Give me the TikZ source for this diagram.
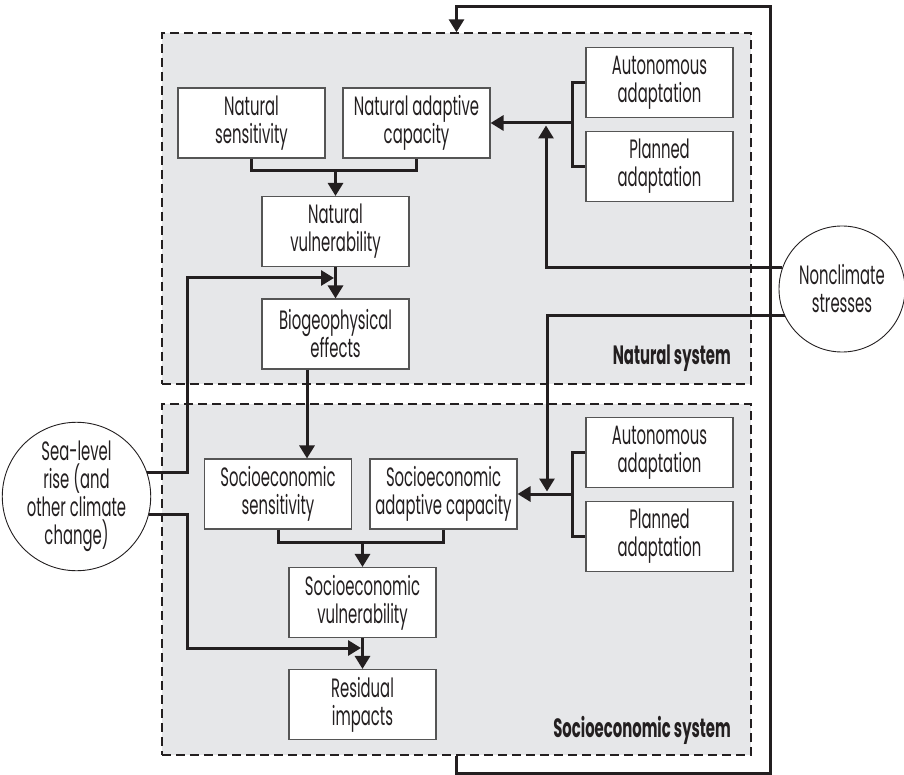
\documentclass[tikz,border=0pt]{standalone}
\usepackage{fontspec}
\setmainfont{Poppins}[FakeStretch=0.56]
\usetikzlibrary{arrows.meta}
\definecolor{ink}{RGB}{35,31,32}
\definecolor{sysgray}{RGB}{230,231,233}
\definecolor{boxline}{RGB}{85,85,85}
\begin{document}
\begin{tikzpicture}[x=1pt,y=-1pt,
  every node/.style={font=\fontsize{26.5}{28}\selectfont, text=ink},
  sysbox/.style={draw=ink, fill=sysgray, dash pattern=on 9pt off 5pt, line width=1.4pt, minimum width=589pt, minimum height=351pt, inner sep=0pt},
  blk/.style={draw=boxline, fill=white, line width=1.1pt, minimum width=147pt, minimum height=70pt, inner sep=1pt, align=center},
  drv/.style={draw=ink, fill=white, circle, line width=0.9pt, align=center, inner sep=0pt},
  conn/.style={draw=ink, line width=3pt},
  arr/.style={conn, -{Triangle[length=13pt,width=15pt]}},
  syslabel/.style={font=\bfseries\fontsize{26.5}{28}\selectfont, anchor=east, inner sep=0pt}
]
\useasboundingbox (0,0) rectangle (904,775);
% system boxes
\node[sysbox] (nat) at (456.5,208.5) {};
\node[sysbox] (soc) at (456.5,579.5) {};
\node[syslabel] (natlab) at (731,358) {Natural system};
\node[syslabel] (soclab) at (731,730) {Socioeconomic system};
% natural system blocks
\node[blk] (ns)  at (251.5,123) {Natural\\sensitivity};
\node[blk] (nac) at (416.5,123) {Natural adaptive\\capacity};
\node[blk] (nv)  at (335.5,231.5) {Natural\\vulnerability};
\node[blk] (bio) at (335.5,334) {Biogeophysical\\effects};
\node[blk] (naa) at (659.5,82.5) {Autonomous\\adaptation};
\node[blk] (npa) at (659.5,166.5) {Planned\\adaptation};
% socioeconomic blocks
\node[blk] (ss)  at (278,494) {Socioeconomic\\sensitivity};
\node[blk] (sac) at (443.5,494) {Socioeconomic\\adaptive capacity};
\node[blk] (sv)  at (362.5,602.5) {Socioeconomic\\vulnerability};
\node[blk] (ri)  at (362.5,704.5) {Residual\\impacts};
\node[blk] (saa) at (659.5,452.5) {Autonomous\\adaptation};
\node[blk] (spa) at (659.5,536.5) {Planned\\adaptation};
% drivers
\node[drv, minimum size=126pt] (nc) at (842,289) {Nonclimate\\stresses};
\node[drv, minimum size=141pt] (sl) at (76.5,496.5) {Sea-level\\rise (and\\other climate\\change)};
% helper coordinates
\coordinate (nm) at (335.5,171);
\coordinate (sm) at (362.5,542);
\coordinate (natbr) at (572,123);
\coordinate (socbr) at (572,494);
\coordinate (nctip1) at (546,125.5);
\coordinate (nctip2) at (547,491.5);
\coordinate (slc1) at (187,278);
\coordinate (sltip1) at (334,278);
\coordinate (slc2) at (187,648);
\coordinate (sltip2) at (361,648);
\coordinate (fb1) at (456.5,773);
\coordinate (fb2) at (770,7);
% natural connectors
\draw[conn] (ns.south) |- (nm) -| (nac.south);
\draw[arr] (nm) -- (nv.north);
\draw[arr] (nv.south) -- (bio.north);
\draw[conn] (naa.west) -| (natbr) |- (npa.west);
\draw[arr] (natbr) -- (nac.east);
% socioeconomic connectors
\draw[arr] ([xshift=-28.5pt]bio.south) -- ([xshift=29pt]ss.north);
\draw[conn] (ss.south) |- (sm) -| (sac.south);
\draw[arr] (sm) -- (sv.north);
\draw[arr] (sv.south) -- (ri.north);
\draw[conn] (saa.west) -| (socbr) |- (spa.west);
\draw[arr] (socbr) -- (sac.east);
% driver connectors
\draw[arr] (nc.160) -| (nctip1);
\draw[arr] (nc.205) -| (nctip2);
\draw[arr] (sl.19) -| (slc1) -- (sltip1);
\draw[arr] (sl.-14) -| (slc2) -- (sltip2);
% feedback
\draw[arr] (soc.south) -- (fb1) -| (fb2) -| (nat.north);
\end{tikzpicture}
\end{document}
